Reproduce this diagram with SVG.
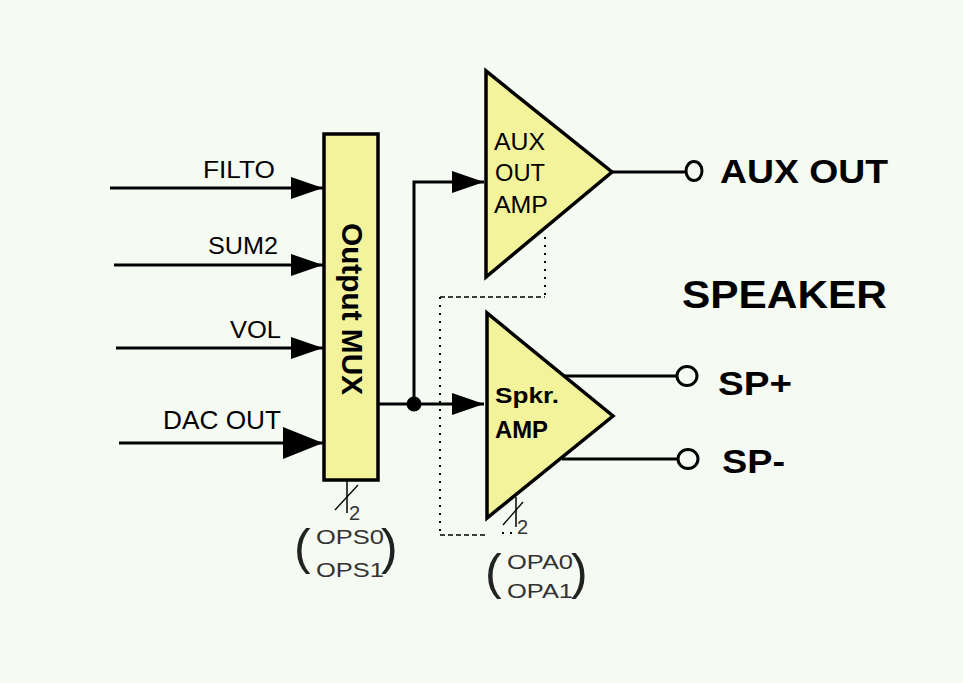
<svg xmlns="http://www.w3.org/2000/svg" width="963" height="683" viewBox="0 0 963 683">
<defs>
<style>
.ln{stroke:#000;stroke-width:3;fill:none}
.dot{stroke:#000;stroke-width:2;fill:none;stroke-dasharray:2 6}
.dash{stroke:#000;stroke-width:1.5;fill:none;stroke-dasharray:5 3}
.blk{fill:#f3f39b;stroke:#000;stroke-width:3.5;stroke-linejoin:miter}
.t{font-family:"Liberation Sans",Arial,sans-serif;fill:#000}
.b{font-weight:bold}
.thin{font-family:"Liberation Sans",Arial,sans-serif;fill:#333;font-size:20px}
.par{font-family:"Liberation Sans",Arial,sans-serif;fill:#222;font-size:50px}
.term{fill:#f5faf2;stroke:#000;stroke-width:3}
</style>
<marker id="ah" markerUnits="userSpaceOnUse" markerWidth="32" markerHeight="22" refX="32" refY="11" orient="auto">
<path d="M0,0 L32,11 L0,22 z" fill="#000"/>
</marker>
<marker id="ahL" markerUnits="userSpaceOnUse" markerWidth="40" markerHeight="32" refX="40" refY="16" orient="auto">
<path d="M0,0 L40,16 L0,32 z" fill="#000"/>
</marker>
</defs>
<rect width="963" height="683" fill="#f5faf2"/>

<g id="connectors">
<line class="ln" x1="110" y1="188" x2="323" y2="188" marker-end="url(#ah)"/>
<line class="ln" x1="114" y1="265" x2="323" y2="265" marker-end="url(#ah)"/>
<line class="ln" x1="116" y1="348" x2="323" y2="348" marker-end="url(#ah)"/>
<line class="ln" x1="119" y1="443" x2="323" y2="443" stroke-width="4.5" marker-end="url(#ahL)"/>
<line class="ln" x1="378" y1="404" x2="484" y2="404" marker-end="url(#ah)"/>
<polyline class="ln" points="414,404 414,182 484,182" marker-end="url(#ah)"/>
<circle cx="414" cy="404" r="7.5" fill="#000"/>
<line class="ln" x1="612" y1="172" x2="686" y2="172" stroke-width="2.5"/>
<line class="ln" x1="563" y1="376" x2="677" y2="376" stroke-width="2.5"/>
<line class="ln" x1="562" y1="459" x2="678" y2="459" stroke-width="2.5"/>
<polyline class="dot" points="545,237 545,297"/>
<line class="dash" x1="440" y1="297" x2="545" y2="297"/>
<polyline class="dot" points="440,297 440,535"/>
<line class="dash" x1="440" y1="535" x2="486" y2="535"/>
<line class="dot" x1="502" y1="533" x2="512" y2="533" stroke-dasharray="1.5 2.5" stroke-width="1.5"/>
<line x1="347" y1="481" x2="347" y2="513" stroke="#000" stroke-width="1.5"/>
<line x1="335" y1="510" x2="358" y2="485" stroke="#000" stroke-width="1.3"/>
<line x1="516" y1="497" x2="516" y2="527" stroke="#000" stroke-width="1.5"/>
<line x1="503" y1="525" x2="523" y2="502" stroke="#000" stroke-width="1.3"/>
</g>

<g id="labels-in">
<text class="t" x="203" y="178" font-size="24" textLength="72" lengthAdjust="spacingAndGlyphs">FILTO</text>
<text class="t" x="208" y="254" font-size="23" textLength="70" lengthAdjust="spacingAndGlyphs">SUM2</text>
<text class="t" x="230" y="338" font-size="23" textLength="51" lengthAdjust="spacingAndGlyphs">VOL</text>
<text class="t" x="163" y="429" font-size="25" textLength="118" lengthAdjust="spacingAndGlyphs">DAC OUT</text>
</g>

<g id="mux">
<rect class="blk" x="324" y="134" width="54" height="346"/>
<text class="t b" transform="translate(342,309) rotate(90)" x="0" y="0" font-size="30" text-anchor="middle" textLength="172" lengthAdjust="spacingAndGlyphs">Output MUX</text>
<text class="thin" x="349" y="520">2</text>
<text class="par" x="294" y="564">(</text>
<text class="thin" x="316" y="544" font-size="23" textLength="68" lengthAdjust="spacingAndGlyphs">OPS0</text>
<text class="thin" x="316" y="577" font-size="23" textLength="68" lengthAdjust="spacingAndGlyphs">OPS1</text>
<text class="par" x="381" y="564">)</text>
</g>

<g id="aux-amp">
<polygon class="blk" points="486,71 486,277 612,172"/>
<text class="t" x="494" y="150" font-size="24" textLength="51" lengthAdjust="spacingAndGlyphs">AUX</text>
<text class="t" x="495" y="181" font-size="24" textLength="50" lengthAdjust="spacingAndGlyphs">OUT</text>
<text class="t" x="494" y="213" font-size="24" textLength="54" lengthAdjust="spacingAndGlyphs">AMP</text>
</g>

<g id="spkr-amp">
<polygon class="blk" points="487,313 487,518 613,416"/>
<text class="t b" x="495" y="403" font-size="22" textLength="64" lengthAdjust="spacingAndGlyphs">Spkr.</text>
<text class="t b" x="495" y="438" font-size="23" textLength="53" lengthAdjust="spacingAndGlyphs">AMP</text>
<text class="thin" x="517" y="534" font-size="19">2</text>
<text class="par" x="485" y="589" font-size="47">(</text>
<text class="thin" x="507" y="569" font-size="20" textLength="66" lengthAdjust="spacingAndGlyphs">OPA0</text>
<text class="thin" x="507" y="598" font-size="20" textLength="66" lengthAdjust="spacingAndGlyphs">OPA1</text>
<text class="par" x="571" y="589" font-size="47">)</text>
</g>

<g id="aux-out">
<ellipse class="term" cx="694" cy="171" rx="8" ry="9.5"/>
<text class="t b" x="720" y="183" font-size="33" textLength="168" lengthAdjust="spacingAndGlyphs">AUX OUT</text>
</g>

<g id="speaker">
<text class="t b" x="682" y="308" font-size="38" textLength="205" lengthAdjust="spacingAndGlyphs">SPEAKER</text>
</g>

<g id="sp-plus">
<ellipse class="term" cx="687" cy="376" rx="10" ry="9.5"/>
<text class="t b" x="718" y="395" font-size="33" textLength="74" lengthAdjust="spacingAndGlyphs">SP+</text>
</g>

<g id="sp-minus">
<ellipse class="term" cx="688" cy="459" rx="10" ry="9.5"/>
<text class="t b" x="722" y="473" font-size="33" textLength="63" lengthAdjust="spacingAndGlyphs">SP-</text>
</g>
</svg>
